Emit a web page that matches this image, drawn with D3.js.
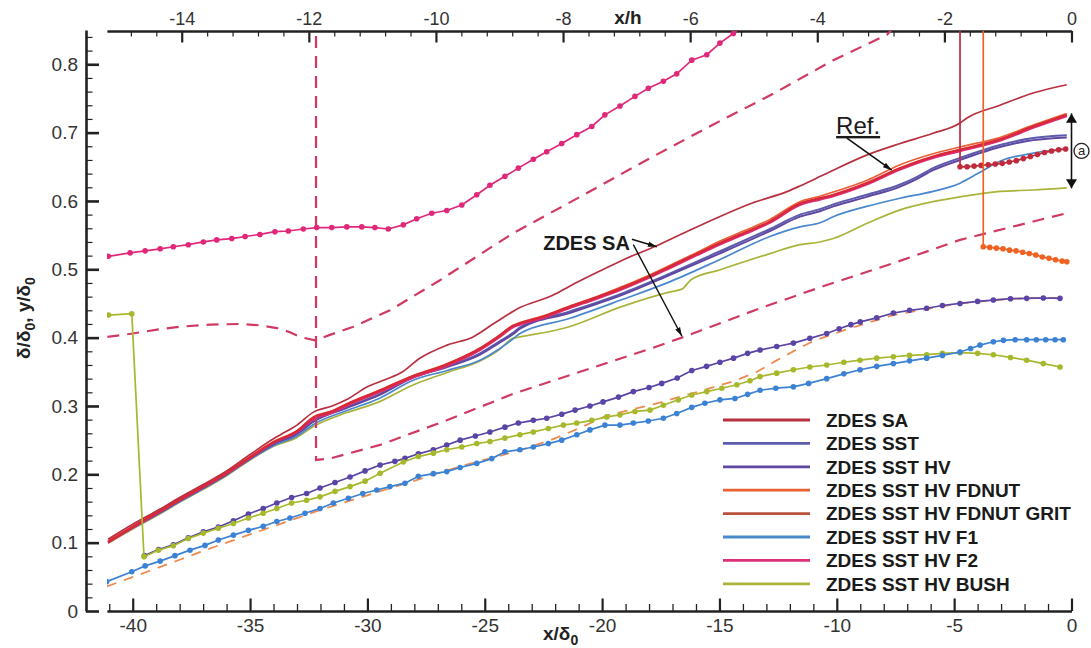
<!DOCTYPE html>
<html><head><meta charset="utf-8">
<script src="https://cdnjs.cloudflare.com/ajax/libs/d3/7.8.5/d3.min.js"></script>
<style>
body{margin:0;background:#fff}
svg{display:block}
text{font-family:"Liberation Sans",Arial,Helvetica,sans-serif}
</style>
</head><body>
<svg id="c" width="1091" height="648"></svg>
<script>
// ---------- tick labels ----------
const xTicksBottom = [-40,-35,-30,-25,-20,-15,-10,-5,0];
const xTicksTop = [-14,-12,-10,-8,-6,-4,-2,0];
const yTicks = [0,0.1,0.2,0.3,0.4,0.5,0.6,0.7,0.8];
const hOverDelta0 = 2.708;

// ---------- legend ----------
const legendNames = ["ZDES SA","ZDES SST","ZDES SST HV","ZDES SST HV FDNUT","ZDES SST HV FDNUT GRIT","ZDES SST HV F1","ZDES SST HV F2","ZDES SST HV BUSH"];
const legendColors = ["#b8303f","#5c5cac","#6048a2","#ea6030","#b8503c","#4a88cc","#dc2f78","#aab43a"];

// ---------- solid lines: delta/delta0 ----------
const deltaSA = [[-41.05,0.105],[-40,0.127],[-39,0.146],[-38,0.166],[-37,0.185],[-36,0.205],[-35,0.229],[-34,0.252],[-33.7,0.258],[-33,0.272],[-32.3,0.291],[-31.5,0.300],[-30.9,0.309],[-30,0.328],[-29.2,0.339],[-28.5,0.350],[-27.8,0.369],[-26.6,0.389],[-25.5,0.401],[-24.6,0.421],[-23.5,0.444],[-22.1,0.462],[-21.4,0.475],[-20,0.499],[-18.9,0.517],[-17.7,0.534],[-16.4,0.555],[-15,0.577],[-13.6,0.597],[-12.1,0.614],[-11.57,0.622],[-10.7,0.636],[-10.15,0.645],[-8.73,0.667],[-7.3,0.684],[-5.9,0.699],[-4.75,0.714],[-4.47,0.721],[-3.05,0.740],[-1.63,0.758],[-0.2,0.770]];
const deltaGRIT = [[-41.05,0.101],[-40,0.123],[-39,0.143],[-38,0.163],[-37,0.182],[-36,0.202],[-35,0.225],[-34,0.247],[-33,0.263],[-32.3,0.283],[-31.5,0.292],[-30.9,0.302],[-29.5,0.322],[-28.1,0.343],[-26.6,0.361],[-25.2,0.384],[-24.4,0.402],[-23.8,0.417],[-23.5,0.421],[-22.4,0.432],[-21.4,0.445],[-20.3,0.458],[-19.2,0.472],[-18.1,0.488],[-17.1,0.504],[-16,0.522],[-15,0.538],[-13.9,0.554],[-12.85,0.570],[-11.57,0.596],[-10.72,0.604],[-10.15,0.609],[-8.73,0.626],[-7.3,0.648],[-5.9,0.665],[-4.75,0.675],[-3.05,0.690],[-1.63,0.709],[-0.2,0.726]];
const deltaFDNUT = [[-41.05,0.103],[-40,0.124],[-39,0.144],[-38,0.164],[-37,0.183],[-36,0.203],[-35,0.226],[-34,0.248],[-33,0.264],[-32.3,0.284],[-31.5,0.293],[-30.9,0.303],[-29.5,0.323],[-28.1,0.344],[-26.6,0.362],[-25.2,0.385],[-24.4,0.403],[-23.8,0.418],[-23.5,0.422],[-22.4,0.433],[-21.4,0.446],[-20.3,0.459],[-19.2,0.474],[-18.1,0.490],[-17.1,0.506],[-16,0.524],[-15,0.541],[-13.9,0.557],[-12.85,0.573],[-11.57,0.599],[-10.72,0.607],[-10.15,0.613],[-8.73,0.630],[-7.3,0.653],[-5.9,0.669],[-4.75,0.679],[-3.05,0.693],[-1.63,0.711],[-0.2,0.728]];
const deltaF2 = [[-41.05,0.100],[-40,0.122],[-39,0.142],[-38,0.162],[-37,0.181],[-36,0.201],[-35,0.224],[-34,0.246],[-33,0.262],[-32.3,0.281],[-31.5,0.290],[-30.9,0.300],[-29.5,0.320],[-28.1,0.341],[-26.6,0.359],[-25.2,0.382],[-24.4,0.400],[-23.8,0.415],[-23.5,0.419],[-22.4,0.430],[-21.4,0.443],[-20.3,0.456],[-19.2,0.470],[-18.1,0.486],[-17.1,0.502],[-16,0.520],[-15,0.536],[-13.9,0.552],[-12.85,0.568],[-11.57,0.594],[-10.72,0.602],[-10.15,0.607],[-8.73,0.624],[-7.3,0.646],[-5.9,0.663],[-4.75,0.673],[-3.05,0.688],[-1.63,0.707],[-0.2,0.724]];
const deltaSSTHV = [[-41.05,0.101],[-40,0.122],[-39,0.141],[-38,0.161],[-37,0.180],[-36,0.200],[-35,0.223],[-34,0.244],[-33,0.259],[-32.3,0.277],[-30.9,0.297],[-29.5,0.316],[-28.1,0.341],[-26.6,0.357],[-25.2,0.375],[-24.4,0.392],[-23.8,0.405],[-23.5,0.413],[-21.4,0.436],[-19.2,0.462],[-17.1,0.492],[-15,0.523],[-12.85,0.556],[-11.57,0.577],[-10.72,0.585],[-10.15,0.592],[-8.73,0.606],[-7.3,0.621],[-6.6,0.632],[-5.9,0.645],[-4.75,0.660],[-3.05,0.679],[-1.63,0.689],[-0.2,0.693]];
const deltaSST = [[-41.05,0.102],[-40,0.123],[-39,0.142],[-38,0.162],[-37,0.181],[-36,0.201],[-35,0.224],[-34,0.245],[-33,0.260],[-32.3,0.278],[-30.9,0.298],[-29.5,0.317],[-28.1,0.342],[-26.6,0.358],[-25.2,0.377],[-24.4,0.394],[-23.8,0.407],[-23.5,0.415],[-21.4,0.438],[-19.2,0.464],[-17.1,0.494],[-15,0.526],[-12.85,0.559],[-11.57,0.580],[-10.72,0.588],[-10.15,0.595],[-8.73,0.609],[-7.3,0.624],[-6.6,0.635],[-5.9,0.648],[-4.75,0.663],[-3.05,0.682],[-1.63,0.692],[-0.2,0.696]];
const deltaF1 = [[-41.05,0.100],[-40,0.121],[-39,0.140],[-38,0.160],[-37,0.179],[-36,0.199],[-35,0.222],[-34,0.242],[-33,0.256],[-32.3,0.273],[-30.9,0.293],[-29.5,0.311],[-28.1,0.337],[-26.6,0.352],[-25.2,0.367],[-24.4,0.383],[-23.8,0.398],[-23.5,0.406],[-21.4,0.428],[-19.2,0.455],[-17.1,0.482],[-15,0.514],[-12.85,0.548],[-11.57,0.562],[-10.72,0.568],[-10.15,0.577],[-8.73,0.592],[-7.3,0.604],[-5.9,0.614],[-4.75,0.626],[-4.0,0.640],[-3.05,0.658],[-1.63,0.670],[-0.2,0.676]];
const deltaBUSH = [[-41.05,0.099],[-40,0.120],[-39,0.139],[-38,0.159],[-37,0.178],[-36,0.198],[-35,0.221],[-34,0.241],[-33,0.254],[-32.3,0.270],[-30.9,0.290],[-29.5,0.306],[-28.1,0.330],[-26.6,0.349],[-25.2,0.366],[-24.4,0.382],[-23.8,0.399],[-23.5,0.401],[-21.4,0.416],[-19.2,0.445],[-17.1,0.467],[-16.6,0.471],[-16.2,0.485],[-15,0.499],[-12.85,0.523],[-11.57,0.536],[-10.72,0.540],[-10.15,0.545],[-8.73,0.567],[-7.3,0.587],[-5.9,0.599],[-4.75,0.606],[-3.05,0.614],[-1.63,0.616],[-0.2,0.619]];

// ---------- dashed lines: y/delta0 (SA and FDNUT) ----------
const dashSA_upper = [[-41.08,0.401],[-40,0.406],[-38.9,0.412],[-37.98,0.416],[-36.7,0.419],[-35.43,0.420],[-34.6,0.418],[-33.86,0.414],[-33.3,0.408],[-32.87,0.401],[-32.23,0.396],[-31.6,0.404],[-30.6,0.416],[-29.04,0.440],[-26.91,0.484],[-24.92,0.528],[-23.78,0.553],[-20.94,0.606],[-18.1,0.660],[-15.26,0.712],[-12.7,0.757],[-10.15,0.806],[-7.87,0.843],[-7.4,0.86]];
const dashSA_lower = [[-32.19,0.9],[-32.19,0.221],[-31.6,0.223],[-29.46,0.243],[-26.62,0.279],[-23.78,0.318],[-20.94,0.350],[-18.1,0.382],[-16.6,0.400],[-13.27,0.443],[-10.43,0.477],[-7.59,0.509],[-4.75,0.543],[-1.63,0.570],[-0.2,0.582]];
const dashFDNUT = [[-41.1,0.036],[-39.5,0.056],[-38,0.075],[-36.5,0.094],[-35,0.112],[-33.5,0.130],[-32,0.148],[-30.5,0.164],[-29,0.180],[-27.5,0.196],[-26,0.212],[-24.7,0.224],[-23.5,0.235],[-22.2,0.250],[-21,0.267],[-19.8,0.286],[-17.75,0.303],[-15.9,0.321],[-14.4,0.336],[-13.4,0.350],[-12.6,0.366],[-11.8,0.381],[-11,0.395],[-9.5,0.413],[-7.6,0.433],[-6,0.443],[-4.75,0.450],[-3.3,0.455],[-1.9,0.458],[-0.4,0.458]];

// ---------- marker lines: y/delta0 ----------
const markF2 = [[-41.04,0.519],[-40.11,0.524],[-39.47,0.527],[-38.83,0.530],[-38.27,0.533],[-37.63,0.536],[-36.99,0.540],[-36.42,0.543],[-35.78,0.545],[-35.21,0.548],[-34.58,0.551],[-33.94,0.555],[-33.37,0.556],[-32.73,0.559],[-32.16,0.561],[-31.52,0.561],[-30.88,0.562],[-30.24,0.562],[-29.68,0.561],[-29.11,0.559],[-28.47,0.565],[-27.9,0.574],[-27.26,0.582],[-26.62,0.586],[-25.98,0.594],[-25.34,0.609],[-24.78,0.623],[-24.14,0.636],[-23.57,0.648],[-22.93,0.661],[-22.36,0.672],[-21.72,0.684],[-21.08,0.697],[-20.44,0.709],[-19.88,0.726],[-19.24,0.739],[-18.6,0.753],[-18.03,0.765],[-17.39,0.775],[-16.82,0.786],[-16.18,0.806],[-15.54,0.814],[-14.98,0.831],[-14.41,0.845],[-13.9,0.86]];
const markF1 = [[-41.11,0.043],[-40.04,0.0575],[-39.47,0.066],[-38.83,0.073],[-38.2,0.081],[-37.56,0.089],[-36.92,0.096],[-36.35,0.104],[-35.71,0.111],[-35.07,0.118],[-34.44,0.124],[-33.86,0.131],[-33.3,0.136],[-32.66,0.143],[-32.02,0.150],[-31.45,0.158],[-30.81,0.165],[-30.2,0.172],[-29.6,0.177],[-29.04,0.182],[-28.4,0.187],[-27.83,0.197],[-27.19,0.201],[-26.62,0.204],[-26.05,0.210],[-25.34,0.216],[-24.7,0.223],[-24.14,0.233],[-23.5,0.236],[-22.93,0.240],[-22.29,0.245],[-21.72,0.250],[-21.08,0.258],[-20.52,0.265],[-19.88,0.272],[-19.24,0.272],[-18.67,0.275],[-18.03,0.278],[-17.39,0.282],[-16.82,0.289],[-16.18,0.298],[-15.62,0.304],[-14.98,0.309],[-14.34,0.311],[-13.8,0.317],[-13.27,0.323],[-12.6,0.326],[-11.85,0.328],[-11.2,0.333],[-10.43,0.340],[-9.7,0.347],[-9.01,0.353],[-8.3,0.358],[-7.59,0.362],[-6.9,0.366],[-6.17,0.370],[-5.5,0.374],[-4.75,0.379],[-4.3,0.384],[-3.9,0.389],[-3.33,0.394],[-2.9,0.396],[-2.4,0.397],[-1.91,0.397],[-1.5,0.397],[-1.1,0.397],[-0.7,0.397],[-0.35,0.397]];
const markBUSH = [[-41.03,0.433],[-40.04,0.435],[-39.52,0.0795],[-38.91,0.089],[-38.27,0.0955],[-37.63,0.106],[-36.99,0.114],[-36.35,0.121],[-35.71,0.128],[-35.07,0.136],[-34.44,0.143],[-33.86,0.150],[-33.23,0.158],[-32.59,0.162],[-32.02,0.167],[-31.38,0.175],[-30.74,0.182],[-30.1,0.190],[-29.46,0.2015],[-28.47,0.218],[-27.83,0.226],[-27.19,0.231],[-26.62,0.236],[-25.98,0.240],[-25.34,0.245],[-24.78,0.248],[-24.14,0.253],[-23.5,0.258],[-22.93,0.262],[-22.29,0.267],[-21.65,0.272],[-21.08,0.275],[-20.44,0.279],[-19.8,0.284],[-19.24,0.287],[-18.6,0.292],[-17.96,0.294],[-17.39,0.301],[-16.75,0.309],[-16.18,0.316],[-15.54,0.321],[-14.9,0.326],[-14.26,0.331],[-13.7,0.337],[-13.27,0.343],[-12.56,0.348],[-11.85,0.353],[-11.15,0.357],[-10.43,0.360],[-9.7,0.364],[-9.01,0.367],[-8.3,0.370],[-7.59,0.372],[-6.9,0.374],[-6.17,0.375],[-5.5,0.377],[-4.75,0.378],[-4.0,0.377],[-3.33,0.375],[-2.6,0.371],[-1.91,0.367],[-1.2,0.362],[-0.49,0.357]];
const markSSTHV = [[-39.5,0.081],[-38.9,0.090],[-38.27,0.097],[-37.63,0.107],[-36.99,0.116],[-36.35,0.123],[-35.71,0.132],[-35.07,0.142],[-34.44,0.150],[-33.86,0.158],[-33.23,0.166],[-32.59,0.172],[-32.02,0.180],[-31.38,0.188],[-30.74,0.196],[-30.1,0.205],[-29.46,0.2136],[-28.83,0.219],[-28.4,0.2234],[-27.83,0.230],[-27.19,0.236],[-26.62,0.243],[-26.05,0.250],[-25.4,0.256],[-24.78,0.262],[-24.14,0.269],[-23.57,0.275],[-22.93,0.279],[-22.36,0.282],[-21.72,0.288],[-21.15,0.294],[-20.52,0.300],[-19.96,0.306],[-19.3,0.313],[-18.67,0.321],[-18.0,0.327],[-17.46,0.333],[-16.8,0.341],[-16.18,0.352],[-15.55,0.358],[-14.98,0.364],[-14.4,0.370],[-13.8,0.377],[-13.27,0.382],[-12.56,0.387],[-11.85,0.392],[-11.15,0.399],[-10.43,0.406],[-9.9,0.413],[-9.4,0.419],[-9.0,0.423],[-8.3,0.429],[-7.59,0.436],[-6.9,0.440],[-6.17,0.443],[-5.5,0.447],[-4.75,0.450],[-4.0,0.453],[-3.33,0.455],[-2.6,0.457],[-1.91,0.4575],[-1.2,0.458],[-0.49,0.4575]];
const markGRIT = [[-4.75,0.9],[-4.75,0.650],[-4.45,0.650],[-4.15,0.651],[-3.85,0.652],[-3.55,0.653],[-3.25,0.654],[-2.95,0.655],[-2.65,0.657],[-2.35,0.659],[-2.05,0.662],[-1.75,0.665],[-1.45,0.668],[-1.15,0.671],[-0.85,0.673],[-0.55,0.675],[-0.25,0.676]];
const markFDNUT = [[-3.76,0.9],[-3.76,0.533],[-3.48,0.532],[-3.2,0.531],[-2.92,0.530],[-2.64,0.528],[-2.36,0.527],[-2.08,0.525],[-1.8,0.523],[-1.52,0.521],[-1.24,0.518],[-0.96,0.516],[-0.68,0.514],[-0.4,0.512],[-0.2,0.511]];

// ---------- annotations (data coordinates) ----------
const annSA = {text:"ZDES SA", at:[-22.51,0.528], arrows:[[[-18.73,0.544],[-17.67,0.533]],[[-18.67,0.536],[-16.6,0.402]]]};
const annRef = {text:"Ref.", at:[-10.03,0.698], arrow:[[-9.57,0.692],[-7.66,0.645]]};
const annA = {x:0, y0:0.728, y1:0.6185};

// ---------- drawing ----------
const svg = d3.select("#c");
const X0 = -41.1;
const x = d3.scaleLinear().domain([X0,0]).range([106.9,1071.5]);
const xh = d3.scaleLinear().domain([X0/hOverDelta0,0]).range([106.9,1071.5]);
const y = d3.scaleLinear().domain([0,0.85]).range([611,30.1]);

const defs = svg.append("defs");
defs.append("clipPath").attr("id","clip").append("rect")
  .attr("x",106.9).attr("y",31).attr("width",1072-106.9).attr("height",611-31);
defs.append("marker").attr("id","arr").attr("viewBox","0 0 10 6")
  .attr("refX",10).attr("refY",3).attr("markerWidth",9).attr("markerHeight",6)
  .attr("markerUnits","userSpaceOnUse").attr("orient","auto")
  .append("path").attr("d","M0,0L10,3L0,6Z").attr("fill","#111");
defs.append("marker").attr("id","arrBig").attr("viewBox","0 0 10 12")
  .attr("refX",10).attr("refY",6).attr("markerWidth",12).attr("markerHeight",11)
  .attr("markerUnits","userSpaceOnUse").attr("orient","auto-start-reverse")
  .append("path").attr("d","M0,0L10,6L0,12Z").attr("fill","#111");

// axes
const axStroke = "#222";
function styleAxis(g, w){
  g.select(".domain").attr("stroke",axStroke).attr("stroke-width",w);
  g.selectAll(".tick line").attr("stroke",axStroke);
  g.selectAll("text").attr("fill","#333").attr("font-size",19);
}
// bottom
const gB = svg.append("g").attr("transform","translate(0,611)")
  .call(d3.axisBottom(x).tickValues(xTicksBottom).tickFormat(d=>String(d)).tickSizeInner(-12.5).tickSizeOuter(0).tickPadding(7.5));
styleAxis(gB,2.6); gB.selectAll(".tick line").attr("stroke-width",2.2);
const gBm = svg.append("g").attr("transform","translate(0,611)")
  .call(d3.axisBottom(x).tickValues(d3.range(-41,0,1).filter(v=>v%5!==0)).tickFormat("").tickSizeInner(-7).tickSizeOuter(0));
gBm.select(".domain").remove(); gBm.selectAll(".tick line").attr("stroke",axStroke).attr("stroke-width",1.3);
// top
const gT = svg.append("g").attr("transform","translate(0,31)")
  .call(d3.axisTop(xh).tickValues(xTicksTop).tickFormat(d=>String(d)).tickSizeInner(-11.5).tickSizeOuter(0).tickPadding(6));
styleAxis(gT,2.6); gT.selectAll(".tick line").attr("stroke-width",2.2); gT.selectAll("text").attr("font-size",18);
const topMinor = d3.range(-14.8,0,0.4).map(v=>Math.round(v*10)/10).filter(v=>Math.abs(v/2-Math.round(v/2))>1e-6);
const gTm = svg.append("g").attr("transform","translate(0,31)")
  .call(d3.axisTop(xh).tickValues(topMinor).tickFormat("").tickSizeInner(-5.5).tickSizeOuter(0));
gTm.select(".domain").remove(); gTm.selectAll(".tick line").attr("stroke",axStroke).attr("stroke-width",1.2);
// left
const gL = svg.append("g").attr("transform","translate(86,0)")
  .call(d3.axisLeft(y).tickValues(yTicks).tickFormat(d=>d===0?"0":d.toFixed(1)).tickSizeInner(-13).tickSizeOuter(0).tickPadding(8));
styleAxis(gL,2.6); gL.selectAll(".tick line").attr("stroke-width",2.6);
const gLm = svg.append("g").attr("transform","translate(86,0)")
  .call(d3.axisLeft(y).tickValues(d3.range(0.02,0.85,0.02).map(v=>Math.round(v*100)/100).filter(v=>Math.abs(v*10-Math.round(v*10))>1e-6)).tickFormat("").tickSizeInner(-6.5).tickSizeOuter(0));
gLm.select(".domain").remove(); gLm.selectAll(".tick line").attr("stroke",axStroke).attr("stroke-width",1.2);

// axis titles
svg.append("text").attr("x",628).attr("y",24).attr("text-anchor","middle")
  .attr("font-size",19).attr("font-weight","bold").attr("fill","#222").text("x/h");
const xt = svg.append("text").attr("x",543).attr("y",640).attr("font-size",19).attr("font-weight","bold").attr("fill","#222");
xt.append("tspan").text("x/δ");
xt.append("tspan").attr("dy",5).attr("font-size",14).text("0");
const yt = svg.append("text").attr("transform","translate(30,318) rotate(-90)").attr("text-anchor","middle")
  .attr("font-size",19).attr("font-weight","bold").attr("fill","#222");
yt.append("tspan").text("δ/δ");
yt.append("tspan").attr("dy",5).attr("font-size",14).text("0");
yt.append("tspan").attr("dy",-5).text(", y/δ");
yt.append("tspan").attr("dy",5).attr("font-size",14).text("0");

// plot area
const plot = svg.append("g").attr("clip-path","url(#clip)");
const smooth = d3.line().x(d=>x(d[0])).y(d=>y(d[1])).curve(d3.curveMonotoneX);
const straight = d3.line().x(d=>x(d[0])).y(d=>y(d[1]));

const solids = [
  [deltaBUSH,legendColors[7],1.7],
  [deltaF1,legendColors[5],1.7],
  [deltaSST,legendColors[1],2.0],
  [deltaSSTHV,legendColors[2],2.0],
  [deltaF2,legendColors[6],2.2],
  [deltaFDNUT,legendColors[3],1.6],
  [deltaGRIT,"#d8283a",2.4],
  [deltaSA,legendColors[0],1.7]
];
solids.forEach(([d,c,w])=>plot.append("path").attr("d",smooth(d)).attr("fill","none").attr("stroke",c).attr("stroke-width",w));

// dashed
const dashCol = "#d03a62";
[dashSA_upper,dashSA_lower].forEach(d=>plot.append("path").attr("d",straight(d)).attr("fill","none")
  .attr("stroke",dashCol).attr("stroke-width",2.2).attr("stroke-dasharray","12,8"));
plot.append("path").attr("d",straight(dashFDNUT)).attr("fill","none")
  .attr("stroke","#ee8a50").attr("stroke-width",1.8).attr("stroke-dasharray","10,8");

// marker curves (purple first so the olive curve covers their shared start)
const markers = [
  [markSSTHV,"#5a44a6"],
  [markBUSH,"#a8b82c"],
  [markF1,"#3c82d4"],
  [markF2,"#e0287a"],
  [markGRIT,"#c02a3c"],
  [markFDNUT,"#f06222"]
];
markers.forEach(([d,c])=>{
  plot.append("path").attr("d",straight(d)).attr("fill","none").attr("stroke",c).attr("stroke-width",1.7);
  plot.append("g").selectAll("circle").data(d).join("circle")
    .attr("cx",p=>x(p[0])).attr("cy",p=>y(p[1])).attr("r",2.8).attr("fill",c);
});

// legend
const lg = svg.append("g");
legendNames.forEach((n,i)=>{
  const yy = 420 + i*23.4;
  lg.append("line").attr("x1",723).attr("x2",810).attr("y1",yy).attr("y2",yy)
    .attr("stroke",legendColors[i]).attr("stroke-width",2.8);
  lg.append("text").attr("x",826).attr("y",yy).attr("dy","0.36em").attr("font-size",19)
    .attr("font-weight","bold").attr("fill","#1a1a1a").text(n);
});

// annotations
svg.append("text").attr("x",x(annSA.at[0])).attr("y",y(annSA.at[1])).attr("font-size",20)
  .attr("font-weight","bold").attr("fill","#1a1a1a").text(annSA.text);
annSA.arrows.forEach(a=>svg.append("line").attr("x1",x(a[0][0])).attr("y1",y(a[0][1]))
  .attr("x2",x(a[1][0])).attr("y2",y(a[1][1])).attr("stroke","#111").attr("stroke-width",1.4).attr("marker-end","url(#arr)"));
svg.append("text").attr("x",x(annRef.at[0])).attr("y",y(annRef.at[1])).attr("font-size",24)
  .attr("fill","#1a1a1a").attr("text-decoration","underline").text(annRef.text);
svg.append("line").attr("x1",x(annRef.arrow[0][0])).attr("y1",y(annRef.arrow[0][1]))
  .attr("x2",x(annRef.arrow[1][0])).attr("y2",y(annRef.arrow[1][1])).attr("stroke","#111").attr("stroke-width",1.6).attr("marker-end","url(#arr)");
svg.append("line").attr("x1",x(annA.x)).attr("x2",x(annA.x)).attr("y1",y(annA.y0)).attr("y2",y(annA.y1))
  .attr("stroke","#111").attr("stroke-width",1.6).attr("marker-start","url(#arrBig)").attr("marker-end","url(#arrBig)");
const cx = x(annA.x)+10, cy = y((annA.y0+annA.y1)/2);
svg.append("circle").attr("cx",cx).attr("cy",cy).attr("r",7.5).attr("fill","none").attr("stroke","#222").attr("stroke-width",1.3);
svg.append("text").attr("x",cx).attr("y",cy).attr("dy","0.33em").attr("text-anchor","middle").attr("font-size",13).attr("fill","#222").text("a");
</script>
</body></html>
